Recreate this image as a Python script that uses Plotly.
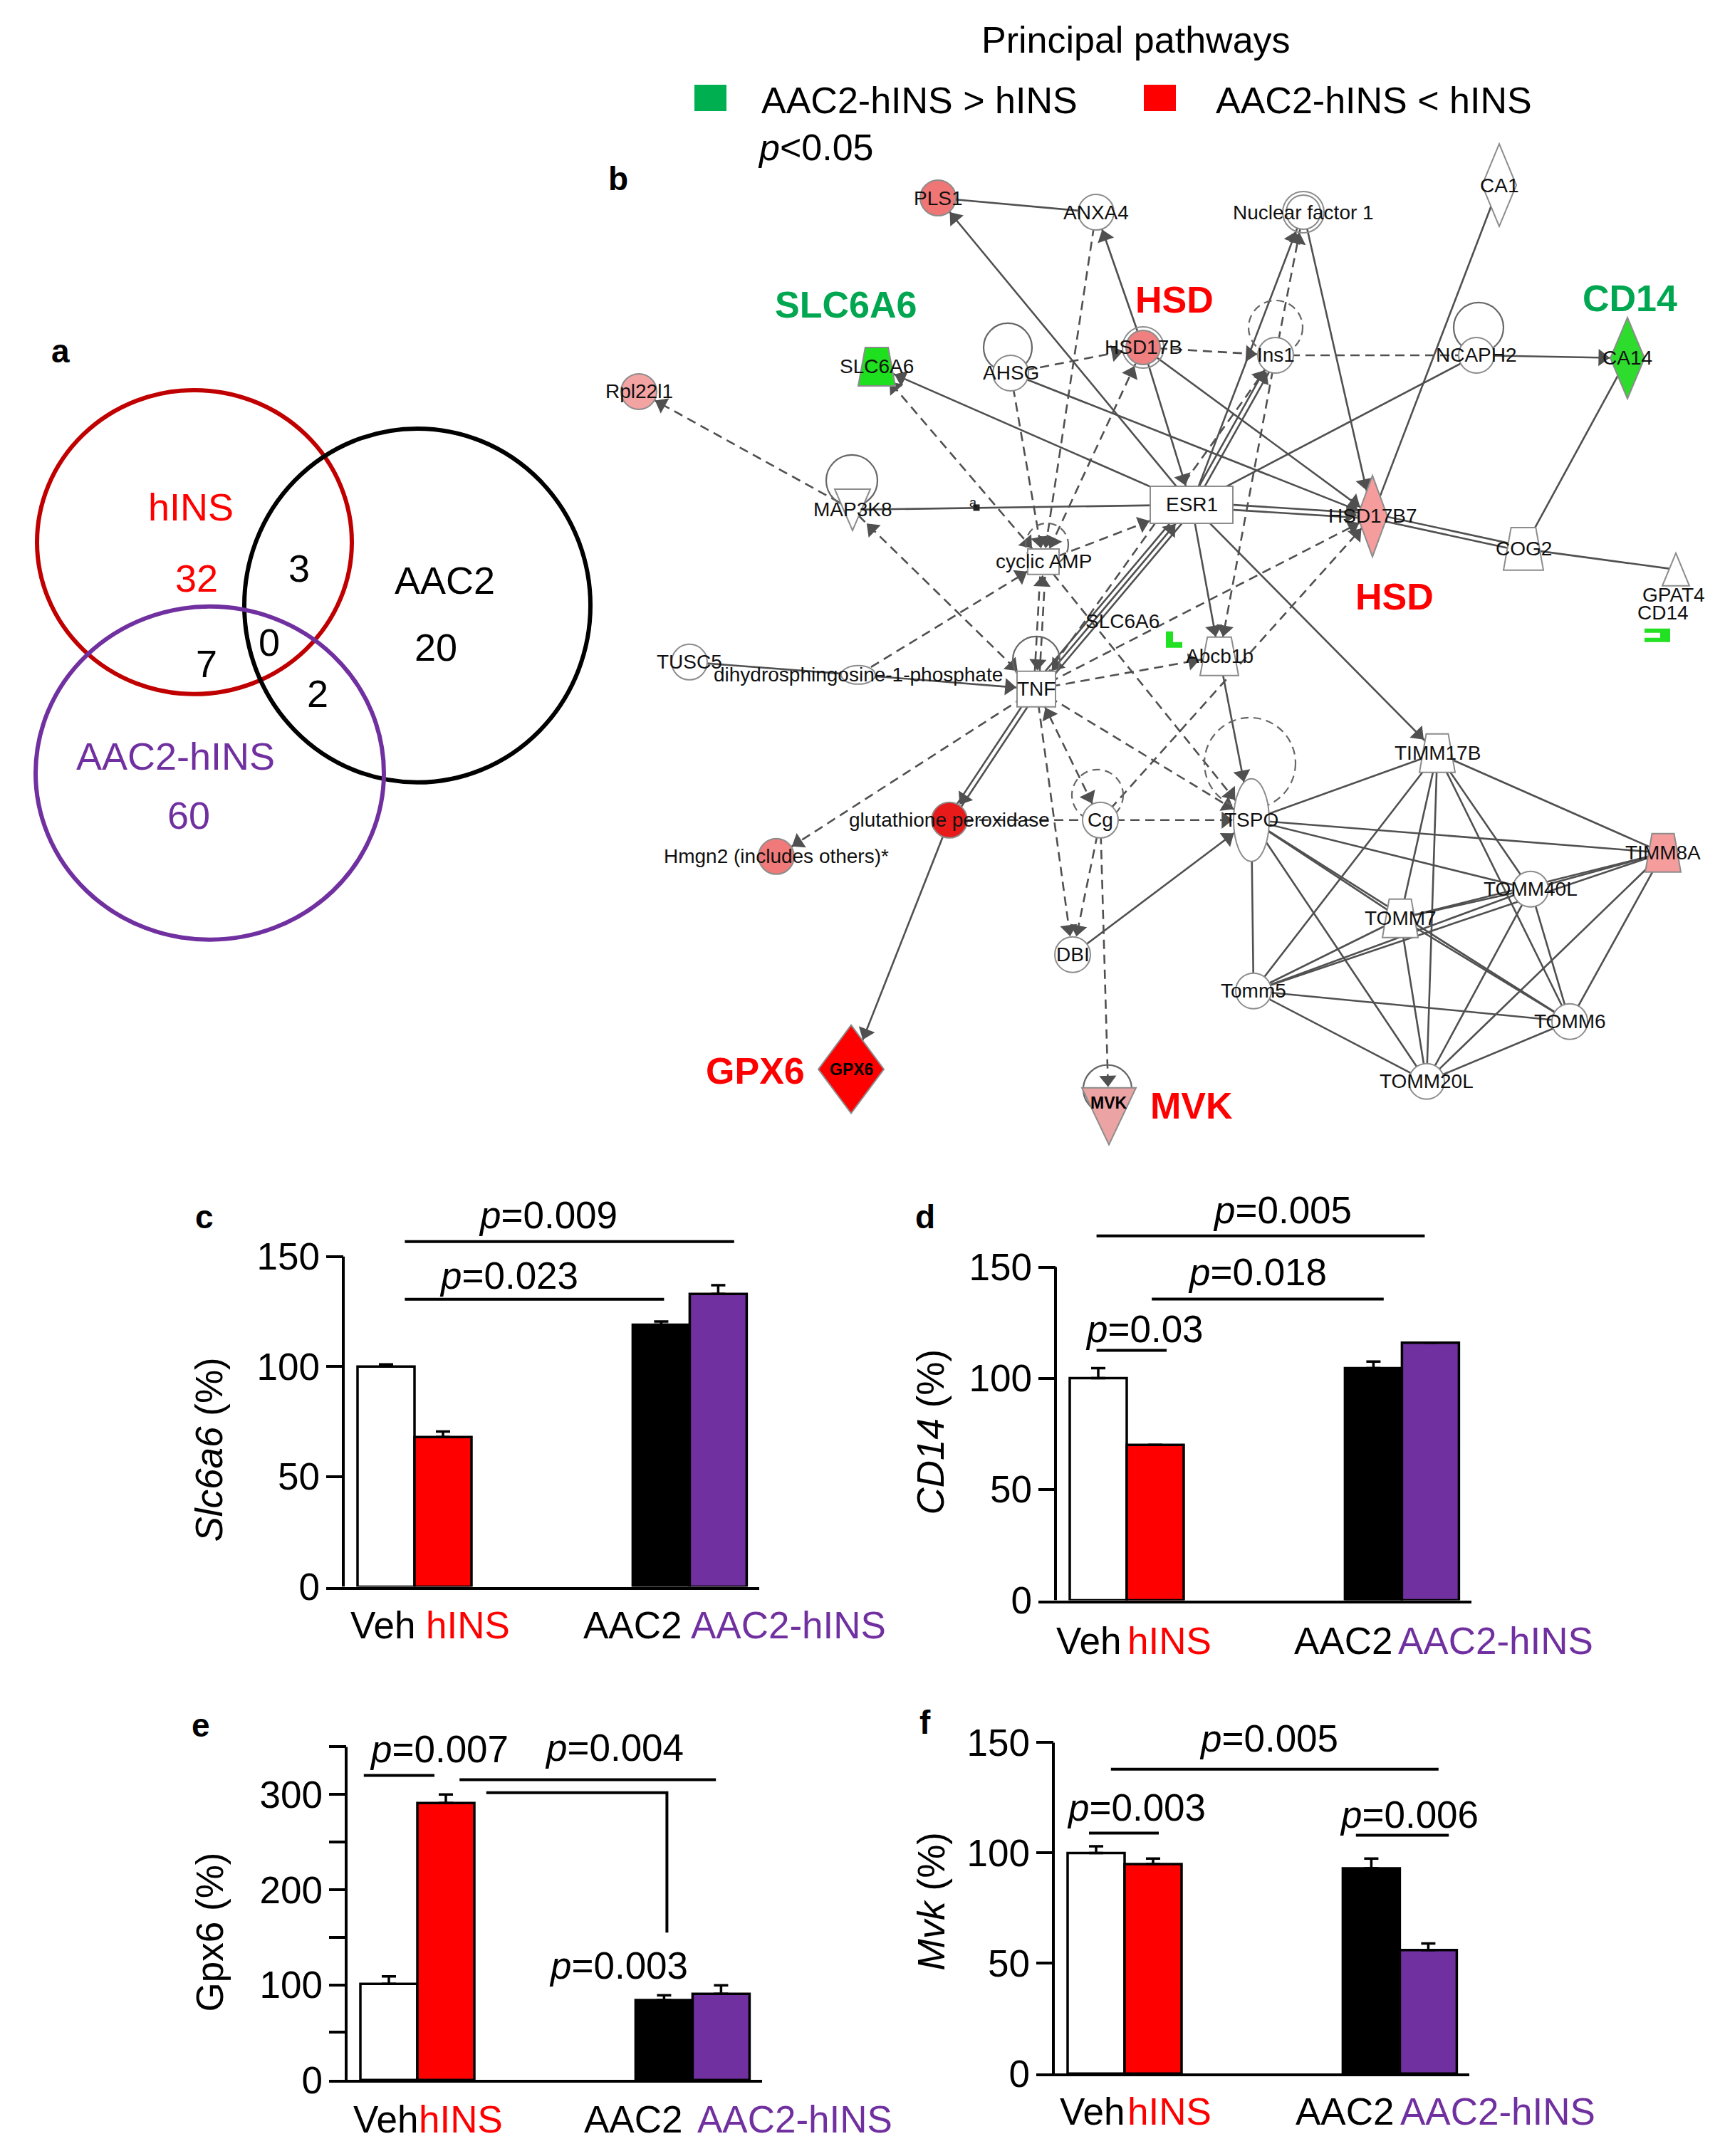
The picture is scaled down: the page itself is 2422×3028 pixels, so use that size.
import math
from itertools import combinations
import plotly.graph_objects as go

W, H = 2422, 3028          # page (window) size
OFF = 8                    # default body margin of the html page
KY = 1.0098                # vertical compensation observed for the captured page
FW, FH = W - 2 * OFF, H - 2 * OFF
SANS = "Liberation Sans, Arial, Helvetica, sans-serif"
BF = 53                    # font size used in bar panels

# ---------------- data ----------------
groups = ["Veh", "hINS", "AAC2", "AAC2-hINS"]
bar_fill = ["#FFFFFF", "#FF0000", "#000000", "#7030A0"]
group_text_color = ["#000000", "#FF0000", "#000000", "#7030A0"]

slc6a6_mean = [100, 68, 119, 133]
slc6a6_sem = [1, 2.5, 1.5, 4]
cd14_mean = [100, 70, 104.5, 116]
cd14_sem = [4.5, 0, 3, 0]
gpx6_mean = [101, 291, 84, 90.5]
gpx6_sem = [8, 9, 5, 9]
mvk_mean = [100, 95, 93, 56]
mvk_sem = [3, 2.5, 4.5, 3]

venn_names = ["hINS", "AAC2", "AAC2-hINS"]
venn_unique = [32, 20, 60]
venn_hins_aac2 = 3
venn_hins_combo = 7
venn_aac2_combo = 2
venn_all = 0

legend_labels = ["AAC2-hINS &gt; hINS", "AAC2-hINS &lt; hINS"]

# network nodes: id, label, kind, fill
node_info = [
    ("PLS1", "PLS1", "circle", "#F07575"),
    ("ANXA4", "ANXA4", "circle", "white"),
    ("NF1", "Nuclear factor 1", "dcircle", "white"),
    ("CA1", "CA1", "diamond", "white"),
    ("SLC6A6", "SLC6A6", "trap", "#1EE01E"),
    ("AHSG", "AHSG", "circle", "white"),
    ("HSD17B", "HSD17B", "dcircle", "#F08080"),
    ("Ins1", "Ins1", "circle", "white"),
    ("NCAPH2", "NCAPH2", "circle", "white"),
    ("CA14", "CA14", "diamond", "#2EDC2E"),
    ("Rpl22l1", "Rpl22l1", "circle", "#F4A3A3"),
    ("MAP3K8", "MAP3K8", "tridown", "white"),
    ("ESR1", "ESR1", "rect", "white"),
    ("HSD17B7", "HSD17B7", "diamond", "#F59C9C"),
    ("COG2", "COG2", "trap", "white"),
    ("GPAT4", "", "triup", "white"),
    ("cAMP", "cyclic AMP", "rect", "white"),
    ("TUSC5", "TUSC5", "circle", "white"),
    ("D1P", "dihydrosphingosine-1-phosphate", "ellipse", "white"),
    ("TNF", "TNF", "rect", "white"),
    ("Abcb1b", "Abcb1b", "trap", "white"),
    ("GPX", "glutathione peroxidase", "circle", "#E81A1A"),
    ("Hmgn2", "Hmgn2 (includes others)*", "circle", "#F07A7A"),
    ("Cg", "Cg", "circle", "white"),
    ("TSPO", "TSPO", "ellipse", "white"),
    ("TIMM17B", "TIMM17B", "trap", "white"),
    ("TIMM8A", "TIMM8A", "trap", "#F59C9C"),
    ("TOMM40L", "TOMM40L", "circle", "white"),
    ("TOMM7", "TOMM7", "trap", "white"),
    ("Tomm5", "Tomm5", "circle", "white"),
    ("TOMM6", "TOMM6", "circle", "white"),
    ("TOMM20L", "TOMM20L", "circle", "white"),
    ("DBI", "DBI", "circle", "white"),
    ("GPX6", "GPX6", "diamond", "#FF0000"),
    ("MVK", "MVK", "tridown", "#EBA3A3"),
]

# edges: (from, to, arrow 0/1(at to)/2(both), multiplicity)
solid_edges = [
    ("PLS1", "ANXA4", 0, 1), ("ESR1", "PLS1", 1, 1), ("HSD17B", "ANXA4", 1, 1),
    ("AHSG", "HSD17B7", 1, 1), ("ESR1", "SLC6A6", 1, 1), ("MAP3K8", "ESR1", 0, 1),
    ("ESR1", "NF1", 1, 1), ("NF1", "HSD17B7", 1, 1), ("CA1", "HSD17B7", 0, 1),
    ("NCAPH2", "CA14", 1, 1), ("NCAPH2", "ESR1", 0, 1), ("CA14", "COG2", 0, 1),
    ("HSD17B7", "COG2", 0, 2), ("COG2", "GPAT4", 0, 1), ("HSD17B", "HSD17B7", 1, 1),
    ("ESR1", "HSD17B7", 1, 2), ("ESR1", "Ins1", 1, 2), ("HSD17B", "ESR1", 1, 1),
    ("ESR1", "Abcb1b", 1, 1), ("ESR1", "TIMM17B", 1, 1), ("ESR1", "TNF", 2, 3),
    ("TNF", "GPX", 1, 2), ("GPX", "GPX6", 1, 1), ("TUSC5", "D1P", 0, 1),
    ("D1P", "TNF", 1, 1), ("Abcb1b", "TSPO", 1, 1), ("DBI", "TSPO", 1, 1),
]
mito_cluster = ["TSPO", "TIMM17B", "TIMM8A", "TOMM40L", "TOMM7", "Tomm5", "TOMM6", "TOMM20L"]
dashed_edges = [
    ("MAP3K8", "Rpl22l1", 1, 1), ("TNF", "MAP3K8", 2, 1), ("cAMP", "SLC6A6", 2, 1),
    ("ANXA4", "cAMP", 1, 1), ("AHSG", "cAMP", 1, 1), ("AHSG", "HSD17B", 1, 1),
    ("cAMP", "HSD17B", 2, 1), ("cAMP", "ESR1", 1, 1), ("cAMP", "TNF", 2, 2),
    ("D1P", "cAMP", 1, 1), ("HSD17B", "Ins1", 1, 1), ("Ins1", "NCAPH2", 0, 1),
    ("Ins1", "NF1", 1, 1), ("Ins1", "Abcb1b", 1, 1), ("TNF", "Ins1", 1, 1),
    ("TNF", "HSD17B7", 1, 1), ("Cg", "HSD17B7", 1, 1), ("TNF", "Hmgn2", 1, 1),
    ("TNF", "DBI", 1, 1), ("Cg", "DBI", 1, 1), ("TNF", "Cg", 2, 1),
    ("Cg", "MVK", 1, 1), ("GPX", "Cg", 0, 1), ("Cg", "TSPO", 1, 1),
    ("TNF", "TSPO", 1, 1), ("cAMP", "TSPO", 1, 1), ("TNF", "Abcb1b", 1, 1),
]

# ---------------- layout geometry (pixels of the page) ----------------
node_xy = {  # x, y, half-width, half-height
    "PLS1": (1317, 278, 25, 25), "ANXA4": (1539, 298, 25, 25), "NF1": (1830, 298, 24, 24),
    "CA1": (2105, 260, 24, 58), "SLC6A6": (1231, 515, 26, 27), "AHSG": (1419, 524, 25, 25),
    "HSD17B": (1605, 488, 24, 24), "Ins1": (1791, 499, 25, 25), "NCAPH2": (2073, 499, 25, 25),
    "CA14": (2285, 503, 24, 57), "Rpl22l1": (897, 550, 25, 25), "MAP3K8": (1197, 716, 25, 29),
    "ESR1": (1673, 709, 58, 26), "HSD17B7": (1927, 725, 21, 57), "COG2": (2139, 771, 28, 30),
    "GPAT4": (2353, 800, 19, 23), "cAMP": (1465, 789, 22, 18), "TUSC5": (968, 930, 25, 25),
    "D1P": (1205, 948, 24, 13), "TNF": (1455, 968, 27, 25), "Abcb1b": (1712, 922, 27, 27),
    "GPX": (1333, 1152, 25, 25), "Hmgn2": (1090, 1203, 25, 25), "Cg": (1545, 1152, 25, 25),
    "TSPO": (1757, 1152, 25, 58), "TIMM17B": (2018, 1058, 25, 27), "TIMM8A": (2335, 1198, 25, 27),
    "TOMM40L": (2149, 1249, 25, 25), "TOMM7": (1966, 1290, 25, 27), "Tomm5": (1760, 1392, 25, 25),
    "TOMM6": (2204, 1435, 25, 25), "TOMM20L": (2003, 1519, 25, 25), "DBI": (1506, 1341, 25, 25),
    "GPX6": (1195, 1502, 46, 62), "MVK": (1557, 1568, 38, 40),
}
self_loops = [  # cx, cy, r, dashed
    (1415, 488, 34, False), (1196, 675, 36, False), (1470, 765, 30, True),
    (1455, 927, 33, False), (1541, 1117, 36, True), (1791, 460, 38, True),
    (2076, 460, 35, False), (1755, 1072, 64, True), (1555, 1530, 34, False),
]

fig = go.Figure()
layout_axes = {}
shapes = []
annotations = []
CV = dict(xref="x5", yref="y5")


def fx(px):
    return (px - OFF) / FW


def fy(py):
    return 1 - (py * KY - OFF) / FH


def add_text(px, py, text, size, color="black", family=SANS, bold=False, angle=0, xanchor="center"):
    if bold:
        text = "<b>" + text + "</b>"
    annotations.append(dict(x=fx(px), y=fy(py), xref="paper", yref="paper", text=text, showarrow=False,
                            font=dict(size=size, color=color, family=family),
                            xanchor=xanchor, yanchor="middle", textangle=angle))


# ---------------- bar panels ----------------
bar_x = [0, 1, 4.83, 5.83]
panels = [
    dict(letter="c", mean=slc6a6_mean, sem=slc6a6_sem, axis_px=482, y0=2229, ppu=3.093, yr=185, ytop=150,
         tickvals=[0, 50, 100, 150], ticktext=["0", "50", "100", "150"],
         ytitle="<i>Slc6a6</i> (%)", title_xy=(294, 2037), letter_xy=(287, 1709),
         xlab_y=2283, xlab_x=[537, 657, 888, 1107],
         sig=[(0.33, 6.11, 156.8, "0.009", 2.84, 168.8), (0.33, 4.88, 130.6, "0.023", 2.16, 141.3)]),
    dict(letter="d", mean=cd14_mean, sem=cd14_sem, axis_px=1482, y0=2248, ppu=3.12, yr=185, ytop=150,
         tickvals=[0, 50, 100, 150], ticktext=["0", "50", "100", "150"],
         ytitle="<i>CD14</i> (%)", title_xy=(1307, 2012), letter_xy=(1299, 1709),
         xlab_y=2305, xlab_x=[1528, 1642, 1886, 2100],
         sig=[(-0.03, 5.73, 164.1, "0.005", 3.23, 175.6), (0.94, 5.01, 135.6, "0.018", 2.79, 147.8),
              (-0.03, 1.2, 112.5, "0.03", 0.81, 122.1)]),
    dict(letter="e", mean=gpx6_mean, sem=gpx6_sem, axis_px=486, y0=2922, ppu=1.337, yr=380, ytop=350,
         tickvals=[0, 50, 100, 150, 200, 250, 300, 350], ticktext=["0", "", "100", "", "200", "", "300", ""],
         ytitle="Gpx6 (%)", title_xy=(294, 2714), letter_xy=(282, 2424),
         xlab_y=2977, xlab_x=[541, 647, 889, 1116],
         sig=[(-0.44, 0.8, 320, "0.007", 0.875, 348), (1.24, 5.74, 315.6, "0.004", 3.95, 349)]),
    dict(letter="f", mean=mvk_mean, sem=mvk_sem, axis_px=1479, y0=2913, ppu=3.1, yr=165, ytop=150,
         tickvals=[0, 50, 100, 150], ticktext=["0", "50", "100", "150"],
         ytitle="<i>Mvk</i> (%)", title_xy=(1307, 2671), letter_xy=(1299, 2420),
         xlab_y=2966, xlab_x=[1533, 1642, 1888, 2103],
         sig=[(0.26, 6.01, 138, "0.005", 3.03, 152), (-0.125, 1.1, 109, "0.003", 0.7, 120.6),
              (4.56, 6.19, 108, "0.006", 5.49, 117.4)]),
]

for i, p in enumerate(panels):
    s = "" if i == 0 else str(i + 1)
    xa, ya = "x" + s, "y" + s
    ax = p["axis_px"]
    top_px = p["y0"] - p["yr"] * p["ppu"]
    layout_axes["xaxis" + s] = dict(domain=[fx(ax - 24), fx(ax + 584)], range=[-1.05, 6.55],
                                    anchor=ya, showline=True, linewidth=4, linecolor="black", ticks="",
                                    showticklabels=False, showgrid=False, zeroline=False, fixedrange=True)
    layout_axes["yaxis" + s] = dict(domain=[fy(p["y0"]), fy(top_px)],
                                    range=[0, p["yr"]], anchor=xa,
                                    showline=False, ticks="inside", ticklen=24, tickwidth=4, tickcolor="black",
                                    tickmode="array", tickvals=p["tickvals"], ticktext=p["ticktext"],
                                    tickfont=dict(family=SANS, size=BF, color="black"),
                                    ticklabelstandoff=8, showgrid=False, zeroline=False, fixedrange=True)
    fig.add_trace(go.Bar(x=bar_x, y=p["mean"], width=1,
                         marker=dict(color=bar_fill, line=dict(color="black", width=3.5)),
                         error_y=dict(type="data", symmetric=False, array=p["sem"], arrayminus=[0] * 4,
                                      color="black", thickness=3.5, width=10),
                         xaxis=xa, yaxis=ya, showlegend=False, hoverinfo="skip"))
    # y axis line (stops at top tick)
    fig.add_trace(go.Scatter(x=[-0.75, -0.75], y=[0, p["ytop"]], mode="lines",
                             line=dict(color="black", width=4), xaxis=xa, yaxis=ya,
                             showlegend=False, hoverinfo="skip"))
    sx, sy = [], []
    for (x0, x1, yv, txt, tx, ty) in p["sig"]:
        sx += [x0, x1, None]
        sy += [yv, yv, None]
        annotations.append(dict(x=tx, y=ty, xref=xa, yref=ya, text="<i>p</i>=" + txt, showarrow=False,
                                font=dict(family=SANS, size=BF, color="black"),
                                xanchor="center", yanchor="middle"))
    if p["letter"] == "e":
        sx += [1.71, 4.88, 4.88, None]
        sy += [302, 302, 155, None]
        annotations.append(dict(x=4.03, y=120, xref=xa, yref=ya, text="<i>p</i>=0.003", showarrow=False,
                                font=dict(family=SANS, size=BF, color="black"),
                                xanchor="center", yanchor="middle"))
    fig.add_trace(go.Scatter(x=sx, y=sy, mode="lines", line=dict(color="black", width=4),
                             xaxis=xa, yaxis=ya, showlegend=False, hoverinfo="skip", cliponaxis=False))
    for g, gx, gc in zip(groups, p["xlab_x"], group_text_color):
        add_text(gx, p["xlab_y"], g, BF, color=gc)
    add_text(*p["title_xy"], p["ytitle"], BF, angle=-90)
    add_text(*p["letter_xy"], p["letter"], 46, bold=True)

# ---------------- canvas (Venn + network), 1 unit = 1 page pixel ----------------
CANVAS_H = 1640
layout_axes["xaxis5"] = dict(domain=[0, 1], range=[OFF, W - OFF], anchor="y5", visible=False, fixedrange=True)
layout_axes["yaxis5"] = dict(domain=[fy(CANVAS_H), 1], range=[CANVAS_H, OFF / KY], anchor="x5",
                             visible=False, fixedrange=True)

# Venn
venn_geom = [(52, 548, 494, 975, "#C00000"), (343, 602, 829, 1099, "#000000"), (50, 852, 539, 1320, "#7030A0")]
for (x0, y0, x1, y1, c) in venn_geom:
    shapes.append(dict(type="circle", x0=x0, y0=y0, x1=x1, y1=y1, line=dict(color=c, width=6), layer="above", **CV))
VF = 54
add_text(268, 712, venn_names[0], VF, color="#FF0000")
add_text(276, 812, str(venn_unique[0]), VF, color="#FF0000")
add_text(624, 815, venn_names[1], VF)
add_text(612, 909, str(venn_unique[1]), VF)
add_text(247, 1062, venn_names[2], VF, color="#7030A0")
add_text(265, 1145, str(venn_unique[2]), VF, color="#7030A0")
add_text(420, 798, str(venn_hins_aac2), VF)
add_text(290, 932, str(venn_hins_combo), VF)
add_text(446, 974, str(venn_aac2_combo), VF)
add_text(378, 902, str(venn_all), VF)
add_text(85, 493, "a", 46, bold=True)

# legend
add_text(1595, 56, "Principal pathways", 52)
shapes.append(dict(type="rect", x0=975, x1=1020, y0=119, y1=156, fillcolor="#00B050", line=dict(width=0), **CV))
shapes.append(dict(type="rect", x0=1606, x1=1651, y0=119, y1=156, fillcolor="#FF0000", line=dict(width=0), **CV))
add_text(1291, 141, legend_labels[0], 52)
add_text(1929, 141, legend_labels[1], 52)
add_text(1062, 207, "<i>p</i>&lt;0.05", 52, xanchor="left")
add_text(868, 251, "b", 46, bold=True)

kinds = {n[0]: n[2] for n in node_info}


def bdist(nid, ux, uy):
    x, y, hw, hh = node_xy[nid]
    k = kinds[nid]
    if k == "circle":
        return hw
    if k == "dcircle":
        return hw + 4
    if k == "diamond":
        return 1.0 / (abs(ux) / hw + abs(uy) / hh)
    if k == "rect":
        tx = hw / abs(ux) if abs(ux) > 1e-9 else 1e9
        ty = hh / abs(uy) if abs(uy) > 1e-9 else 1e9
        return min(tx, ty)
    return 1.0 / math.sqrt((ux / hw) ** 2 + (uy / hh) ** 2)


ARROW = 21
arrow_x, arrow_y, arrow_ang = [], [], []


def add_arrow(target, ux, uy):
    x, y = node_xy[target][:2]
    d = bdist(target, ux, uy) + ARROW / 2 + 1
    arrow_x.append(x - ux * d)
    arrow_y.append(y - uy * d)
    arrow_ang.append(math.degrees(math.atan2(ux, -uy)))


def edge_trace(edges, dash):
    xs, ys = [], []
    for a, b, arrow, mult in edges:
        xa_, ya_ = node_xy[a][:2]
        xb_, yb_ = node_xy[b][:2]
        dx, dy = xb_ - xa_, yb_ - ya_
        L = math.hypot(dx, dy)
        ux, uy = dx / L, dy / L
        px_, py_ = -uy, ux
        offs = {1: [0], 2: [-3.5, 3.5], 3: [-6.5, 0, 6.5]}[mult]
        for o in offs:
            xs += [xa_ + px_ * o, xb_ + px_ * o, None]
            ys += [ya_ + py_ * o, yb_ + py_ * o, None]
        if arrow in (1, 2):
            add_arrow(b, ux, uy)
        if arrow == 2:
            add_arrow(a, -ux, -uy)
    line = dict(color="#505050", width=2.6)
    if dash:
        line["dash"] = "13px,8px"
    fig.add_trace(go.Scatter(x=xs, y=ys, mode="lines", line=line, xaxis="x5", yaxis="y5",
                             showlegend=False, hoverinfo="skip"))


all_solid = solid_edges + [(a, b, 0, 1) for a, b in combinations(mito_cluster, 2)]
edge_trace(all_solid, False)
edge_trace(dashed_edges, True)
fig.add_trace(go.Scatter(x=arrow_x, y=arrow_y, mode="markers",
                         marker=dict(symbol="triangle-up", size=ARROW, angle=arrow_ang, color="#505050",
                                     line=dict(width=0)),
                         xaxis="x5", yaxis="y5", showlegend=False, hoverinfo="skip"))
# small "a" marker on MAP3K8-ESR1 edge
fig.add_trace(go.Scatter(x=[1371], y=[713], mode="markers", marker=dict(symbol="square", size=9, color="#222"),
                         xaxis="x5", yaxis="y5", showlegend=False, hoverinfo="skip"))

# self loops
for (cx, cy, r, dashed) in self_loops:
    ln = dict(color="#666666", width=2.2)
    if dashed:
        ln["dash"] = "11px,7px"
    shapes.append(dict(type="circle", x0=cx - r, x1=cx + r, y0=cy - r, y1=cy + r, line=ln, layer="above", **CV))

# nodes
NODE_LINE = dict(color="#8c8c8c", width=2)
for nid, label, kind, fill in node_info:
    x, y, hw, hh = node_xy[nid]
    if kind in ("circle", "dcircle", "ellipse"):
        shapes.append(dict(type="circle", x0=x - hw, x1=x + hw, y0=y - hh, y1=y + hh, fillcolor=fill,
                           line=NODE_LINE, layer="above", **CV))
        if kind == "dcircle":
            shapes.append(dict(type="circle", x0=x - hw - 5, x1=x + hw + 5, y0=y - hh - 5, y1=y + hh + 5,
                               line=NODE_LINE, layer="above", **CV))
    elif kind == "rect":
        shapes.append(dict(type="rect", x0=x - hw, x1=x + hw, y0=y - hh, y1=y + hh, fillcolor=fill,
                           line=NODE_LINE, layer="above", **CV))
    else:
        if kind == "diamond":
            pts = [(x, y - hh), (x + hw, y), (x, y + hh), (x - hw, y)]
        elif kind == "trap":
            pts = [(x - hw * 0.62, y - hh), (x + hw * 0.62, y - hh), (x + hw, y + hh), (x - hw, y + hh)]
        elif kind == "tridown":
            pts = [(x - hw, y - hh), (x + hw, y - hh), (x, y + hh)]
        else:  # triup
            pts = [(x, y - hh), (x + hw, y + hh), (x - hw, y + hh)]
        path = "M " + " L ".join("%g,%g" % pt for pt in pts) + " Z"
        shapes.append(dict(type="path", path=path, fillcolor=fill, line=NODE_LINE, layer="above", **CV))

# extra small green glyphs
shapes.append(dict(type="path", path="M 1637,887 L 1647,887 L 1647,902 L 1660,902 L 1660,910 L 1637,910 Z",
                   fillcolor="#22E022", line=dict(width=0), layer="above", **CV))
shapes.append(dict(type="path", path="M 2309,883 L 2345,883 L 2345,902 L 2309,902 L 2309,896 L 2331,896 L 2331,889 L 2309,889 Z",
                   fillcolor="#22E022", line=dict(width=0), layer="above", **CV))

# node labels
LF = 28
LC = "#111111"
for nid, label, kind, fill in node_info:
    if not label:
        continue
    x, y = node_xy[nid][:2]
    if nid == "GPX6":
        add_text(x, y, label, 23, bold=True)
    elif nid == "MVK":
        add_text(x, y - 19, label, 23, bold=True)
    else:
        add_text(x, y, label, LF, color=LC)
add_text(2350, 836, "GPAT4", LF, color=LC)
add_text(2335, 861, "CD14", LF, color=LC)
add_text(1576, 873, "SLC6A6", LF, color=LC)
add_text(1366, 706, "a", 18, color=LC)

# big highlighted gene names
BIG = 52
add_text(1187, 428, "SLC6A6", BIG, color="#00A650", bold=True)
add_text(1649, 421, "HSD", BIG, color="#FF0000", bold=True)
add_text(2288, 419, "CD14", BIG, color="#00A650", bold=True)
add_text(1958, 838, "HSD", BIG, color="#FF0000", bold=True)
add_text(1060, 1504, "GPX6", BIG, color="#FF0000", bold=True)
add_text(1673, 1553, "MVK", BIG, color="#FF0000", bold=True)

fig.update_layout(width=FW, height=FH, margin=dict(l=0, r=0, t=0, b=0), paper_bgcolor="white",
                  plot_bgcolor="rgba(0,0,0,0)", showlegend=False, shapes=shapes, annotations=annotations,
                  font=dict(family=SANS), **layout_axes)
fig.write_html("out.html")
